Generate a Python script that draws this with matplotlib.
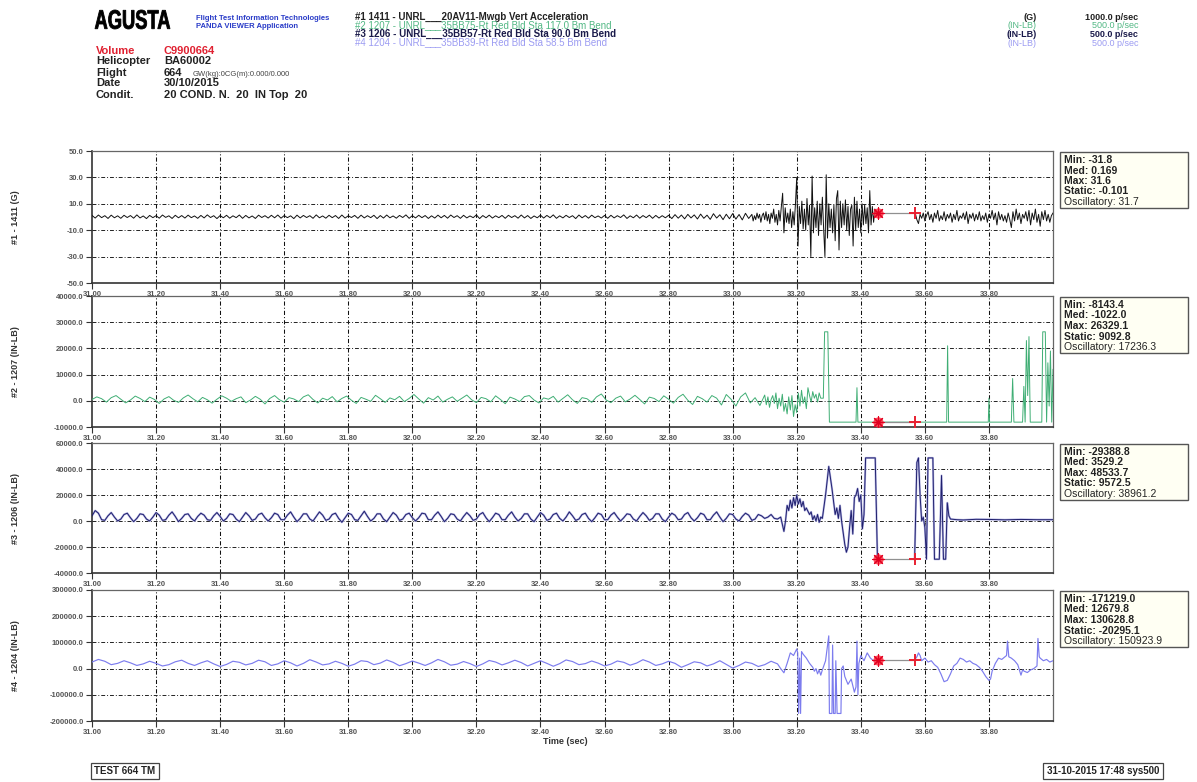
import numpy as np
import matplotlib
matplotlib.use('Agg')
import matplotlib.pyplot as plt
from matplotlib.patches import Rectangle, PathPatch
from matplotlib.ticker import FormatStrFormatter
from matplotlib.textpath import TextPath
from matplotlib.font_manager import FontProperties
from matplotlib.transforms import Affine2D

FONT = ['Liberation Sans', 'DejaVu Sans']
plt.rcParams['font.family'] = FONT

# ---------------- DATA ----------------
x_ticks = [31.0, 31.2, 31.4, 31.6, 31.8, 32.0, 32.2, 32.4, 32.6, 32.8, 33.0, 33.2, 33.4, 33.6, 33.8]
channel_labels = ['#1 - 1411 (G)', '#2 - 1207 (IN-LB)', '#3 - 1206 (IN-LB)', '#4 - 1204 (IN-LB)']
y_ticks = [[-50, -30, -10, 10, 30, 50],
           [-10000, 0, 10000, 20000, 30000, 40000],
           [-40000, -20000, 0, 20000, 40000, 60000],
           [-200000, -100000, 0, 100000, 200000, 300000]]
legend_lines = ['#1 1411 - UNRL___20AV11-Mwgb Vert Acceleration',
                '#2 1207 - UNRL___35BB75-Rt Red Bld Sta 117.0 Bm Bend',
                '#3 1206 - UNRL___35BB57-Rt Red Bld Sta 90.0 Bm Bend',
                '#4 1204 - UNRL___35BB39-Rt Red Bld Sta 58.5 Bm Bend']
units = ['(G)', '(IN-LB)', '(IN-LB)', '(IN-LB)']
rates = ['1000.0 p/sec', '500.0 p/sec', '500.0 p/sec', '500.0 p/sec']
stats = [['Min: -31.8', 'Med: 0.169', 'Max: 31.6', 'Static: -0.101', 'Oscillatory: 31.7'],
         ['Min: -8143.4', 'Med: -1022.0', 'Max: 26329.1', 'Static: 9092.8', 'Oscillatory: 17236.3'],
         ['Min: -29388.8', 'Med: 3529.2', 'Max: 48533.7', 'Static: 9572.5', 'Oscillatory: 38961.2'],
         ['Min: -171219.0', 'Med: 12679.8', 'Max: 130628.8', 'Static: -20295.1', 'Oscillatory: 150923.9']]
cursor_t = [33.455, 33.568]
cursor_v = [3, -8143, -29388, 33000]

# Series 1 (G), quiet part 31.00.. step 0.01
s1_quiet_t0, s1_quiet_dt = 31.00, 0.01
s1_quiet = [1.2, -0.8, 1.5, -0.5, 1.0, -1.1, 1.4, -0.6, 0.9, -1.0,
            1.3, -0.4, 1.1, -0.9, 1.6, -0.7, 0.8, -1.2, 1.2, -0.5,
            1.0, -0.9, 1.5, -0.3, 0.9, -1.1, 1.3, -0.6, 1.1, -0.8,
            1.4, -0.5, 0.8, -1.0, 1.2, -0.7, 1.6, -0.4, 1.0, -1.2,
            1.1, -0.6, 1.3, -0.9, 0.9, -0.5, 1.5, -1.0, 1.2, -0.7,
            0.8, -1.1, 1.4, -0.4, 1.0, -0.8, 1.3, -0.6, 1.5, -0.9,
            1.1, -0.5, 0.9, -1.2, 1.4, -0.7, 1.2, -0.4, 1.0, -1.0,
            1.6, -0.6, 0.8, -0.9, 1.3, -0.5, 1.1, -1.1, 1.5, -0.8,
            0.9, -0.4, 1.2, -1.0, 1.4, -0.7, 1.0, -0.5, 1.3, -1.2,
            1.1, -0.8, 1.5, -0.6, 0.8, -0.9, 1.2, -0.4, 1.6, -1.0,
            1.0, -0.7, 1.3, -0.5, 1.1, -1.1, 0.9, -0.8, 1.4, -0.6,
            1.2, -0.9, 1.5, -0.4, 1.0, -1.0, 1.3, -0.7, 0.8, -0.5,
            1.6, -1.2, 1.1, -0.6, 1.4, -0.8, 0.9, -0.5, 1.2, -1.0,
            1.3, -0.4, 1.0, -0.9, 1.5, -0.7, 1.1, -1.1, 0.8, -0.6,
            1.4, -0.8, 1.2, -0.5, 1.6, -1.0, 0.9, -0.7, 1.3, -0.4,
            1.0, -1.2, 1.5, -0.6, 1.1, -0.9, 1.4, -0.5, 0.8, -0.8,
            1.2, -1.0, 1.3, -0.7, 1.0, -0.4, 1.6, -1.1, 0.9, -0.6,
            1.5, -0.9, 1.1, -0.5, 1.4, -1.0, 1.2, -0.8, 1.0, -0.6,
            1.3, -1.2, 1.8, -0.9, 1.5, -1.4, 2.0, -0.7, 1.6, -1.5,
            2.2, -1.0, 1.4, -1.8, 2.5, -0.8, 1.7, -2.0, 2.1, -1.3,
            2.6, -1.6, 1.9, -2.2, 2.8, -1.1]
# Series 1 burst part 33.06.. step 0.004
s1_burst_t0, s1_burst_dt = 33.06, 0.004
s1_burst = [2, -3, 1, -2, 3, -1, 2, -4, 1, 3,
            -2, 4, -3, 2, -5, 3, -1, 6, -4, 2,
            -6, 5, -3, 8, 18, -12, 7, -4, 3, -5,
            6, -8, 4, -6, 10, 30, -22, 8, -5, 12,
            -9, 6, -10, 14, -6, 9, -30, 31, -12, 7,
            -8, 12, -14, 10, -6, 15, -9, -30, 32, -16,
            10, -8, 6, -12, 9, -18, 14, 20, -25, 12,
            -8, 10, -6, 13, -10, 8, -14, 6, 9, -22,
            15, -10, 12, -8, 6, -12, 10, -6, 9, -5,
            7, -12, 20, -6, 8, -4, 6, 2, 3]
# Series 1 after the cursor gap, 33.57.. step 0.005
s1_post_t0, s1_post_dt = 33.57, 0.005
s1_post = [3, -2, -5, 2, -1, 3, -3, 1, 4, -2,
           2, -4, 3, -1, 5, -3, 1, -2, 4, -3,
           2, -1, 3, -4, 2, -2, 5, -3, 1, -1,
           3, -2, 4, -5, 2, -1, 3, -3, 2, -2,
           4, -3, 1, -2, 3, -4, 2, -1, 5, -2,
           3, -6, 4, -2, 2, -3, 1, -4, 3, -2,
           -8, 4, -3, 6, -2, 3, -5, 2, -1, 4,
           -3, 5, -6, 3, -2, 6, -4, 2, -7, 4,
           -2, 5, -3, 2, -4, 1, 3]

# Series 2 (IN-LB), quiet 31.00.. step 0.015
s2_quiet_t0, s2_quiet_dt = 31.00, 0.015
s2_quiet = [500, 1500, 800, -500, 1200, 2000, 600, -800, 300, 1800,
            900, -300, 1400, 500, -1000, 700, 1600, 200, -600, 1100,
            2200, 800, -400, 1300, 400, -900, 600, 1900, 1000, -200,
            800, 1500, -700, 300, 1700, 600, -1200, 900, 2000, 400,
            -500, 1200, 700, -300, 1500, 2300, 500, -800, 1000, 300,
            1600, -400, 900, 1800, 200, -1000, 1300, 600, -200, 2100,
            800, -600, 1100, 400, 1700, -300, 900, 2400, 700, -900,
            1200, 300, 1800, -500, 600, 1500, -200, 1000, 2200, 400,
            -700, 1300, 800, -400, 1900, 500, -1100, 1400, 700, -300,
            1600, 2000, 300, -800, 1100, 600, 1700, -500, 900, 2300,
            400, -1000, 1200, 800, -600, 1500, 2600, 300, -700, 1000,
            1800, -400, 700, 2100, 500, -1200, 1400, 900, -300, 1900,
            600, -900, 1300, 2500, 200, -1400, 1700, 800, -500, 2000,
            1000, -1600, 2400, 600, -2000, 1500, 3000, -800, 1200, -1800,
            2200]
# Series 2 active 33.105.. step 0.005
s2_act_t0, s2_act_dt = 33.105, 0.005
s2_act = [-1500, 1500, -2500, 500, 2000, -1000, 3000, -3000, 1000, -2000,
          2500, -4000, -1000, -5000, 1500, -3500, 2000, -6000, -1500, -4500,
          3000, -2000, 4000, -1000, 1500, -3000, 5000, 2000, -500, 3500,
          1000, 2500, -500, 3000, 1000]
# Series 2 saturated part (explicit samples)
s2_sat_t = [33.283, 33.287, 33.297, 33.302, 33.385, 33.388, 33.391, 33.668, 33.671, 33.674,
            33.798, 33.800, 33.802, 33.870, 33.874, 33.878, 33.905, 33.909, 33.913, 33.917,
            33.921, 33.925, 33.929, 33.935, 33.965, 33.968, 33.976, 33.980, 33.984, 33.988,
            33.992, 33.996, 34.0]
s2_sat_v = [1000, 26329, 26329, -8143, -8143, 5000, -8143, -8143, 21000, -8143,
            -8143, 1000, -8143, -8143, 8500, -8143, -8143, 5500, -8143, 23000,
            2000, 24500, -8143, -8143, -8143, 26329, 26329, -8143, 14500, -2000,
            19000, -8143, 12000]

# Series 3 (IN-LB), quiet 31.00.. step 0.01
s3_quiet_t0, s3_quiet_dt = 31.00, 0.01
s3_quiet = [4000, 8000, 6000, 1000, 500, 4000, 6500, 3000, 0, 1500,
            5000, 6000, 2500, -500, 2000, 5500, 5000, 1500, 0, 3000,
            6500, 4500, 500, 1000, 4500, 7000, 3500, -500, 2000, 5000,
            5500, 2000, 0, 3500, 6000, 4500, 1000, 500, 4000, 6500,
            3500, 0, 2000, 5500, 5000, 1500, -500, 3000, 6500, 4000,
            500, 1500, 5000, 6000, 2500, 0, 2500, 6000, 5000, 1000,
            1000, 4500, 7000, 3000, -500, 2000, 5500, 5500, 1500, 0,
            3500, 7000, 4500, 500, 1500, 5000, 6000, 2000, -1000, 2500,
            6000, 5000, 1000, 500, 4000, 7500, 3500, 0, 2000, 5500,
            5500, 1500, -500, 3000, 6500, 4500, 500, 1500, 5000, 6000,
            2500, 0, 2500, 6000, 5500, 1000, 1000, 4500, 7000, 3500,
            -500, 2000, 5500, 5000, 1500, 0, 3500, 6500, 4000, 500,
            1500, 5000, 6500, 2500, -500, 2500, 6000, 5000, 1000, 1000,
            4500, 7000, 3000, 0, 2000, 5500, 5500, 1500, -500, 3000,
            6500, 4500, 500, 1500, 5000, 6000, 2000, 0, 3000, 7000,
            4000, 500, 1500, 5000, 6000, 2000, -500, 2500, 6000, 5000,
            1000, 1000, 4500, 6500, 3000, 0, 2500, 5500, 5000, 1500,
            0, 3500, 6500, 4000, 500, 2000, 5500, 5500, 1500, -500,
            3000, 6000, 4500, 1000, 1500, 5000, 6500, 2500, 0, 2500,
            6000, 5000, 1000, 1000, 4500, 7000, 3000, -500, 2000, 5500,
            5000, 1500, 0, 3500, 6000, 4500, 500, 1500, 5000, 4000,
            2000]
# Series 3 active part before the cursor gap
s3_act_t = [33.11, 33.12, 33.13, 33.14, 33.15, 33.16, 33.165, 33.17, 33.175, 33.18,
            33.185, 33.19, 33.195, 33.20, 33.205, 33.21, 33.215, 33.22, 33.225, 33.23,
            33.24, 33.245, 33.25, 33.255, 33.26, 33.265, 33.27, 33.275, 33.28, 33.29,
            33.30, 33.31, 33.32, 33.325, 33.33, 33.335, 33.34, 33.35, 33.355, 33.36,
            33.365, 33.37, 33.375, 33.38, 33.385, 33.39, 33.395, 33.40, 33.405, 33.41,
            33.415, 33.445, 33.452]
s3_act_v = [3000, 5000, 2000, 1500, 3000, -8000, 0, 12000, 8000, 16000,
            10000, 18000, 12000, 20000, 13000, 17000, 11000, 15000, 8000, 10000,
            5000, 7000, 1000, 4000, 0, 5000, -1000, 3000, 2000, 20000,
            42000, 25000, 5000, 10000, 2000, 12000, 0, -18000, -24000, -20000,
            -5000, 8000, -10000, 18000, 20000, 25000, 15000, 20000, -6000, 5000,
            48533, 48533, -29388]
# Series 3 after the cursor gap
s3_post_t = [33.568, 33.575, 33.58, 33.585, 33.59, 33.595, 33.60, 33.605, 33.61, 33.625,
             33.63, 33.645, 33.652, 33.658, 33.665, 33.67, 33.675, 33.68, 33.70, 33.72,
             33.76, 33.80, 33.85, 33.90, 33.95, 34.00]
s3_post_v = [-29388, 45000, 48533, 20000, 0, 3000, -5000, -29388, 48533, 48533,
             -29388, -29388, 35000, -29388, -29388, 14000, 4000, 1500, 1000, 800,
             1300, 1200, 900, 1200, 1000, 1000]

# Series 4 (IN-LB), quiet 31.00.. step 0.02
s4_quiet_t0, s4_quiet_dt = 31.00, 0.02
s4_quiet = [25000, 35000, 28000, 15000, 20000, 30000, 22000, 12000, 18000, 28000,
            20000, 10000, 15000, 26000, 32000, 20000, 12000, 22000, 30000, 18000,
            8000, 16000, 28000, 24000, 14000, 20000, 32000, 26000, 12000, 18000,
            30000, 22000, 10000, 20000, 34000, 25000, 14000, 18000, 28000, 20000,
            9000, 17000, 30000, 27000, 15000, 21000, 33000, 24000, 11000, 19000,
            29000, 21000, 12000, 22000, 35000, 26000, 13000, 17000, 27000, 19000,
            8000, 18000, 31000, 25000, 14000, 22000, 32000, 23000, 10000, 20000,
            30000, 20000, 9000, 19000, 33000, 27000, 15000, 19000, 29000, 21000,
            10000, 17000, 29000, 24000, 13000, 21000, 34000, 25000, 12000, 18000,
            28000, 20000, 5000, 15000, 26000, 22000, 10000, 18000, 30000, 16000,
            2000, 12000, 25000, 20000, 8000, 15000, 28000, 18000]
s4_act_t = [33.15, 33.16, 33.17, 33.18, 33.19, 33.20, 33.203, 33.206, 33.209, 33.212,
            33.215, 33.22, 33.23, 33.24, 33.25, 33.255, 33.26, 33.265, 33.27, 33.275,
            33.28, 33.29, 33.30, 33.302, 33.31, 33.312, 33.315, 33.32, 33.322, 33.326,
            33.338, 33.34, 33.345, 33.35, 33.36, 33.37, 33.38, 33.385, 33.388, 33.391,
            33.394, 33.40, 33.41, 33.42, 33.43, 33.44, 33.452]
s4_act_v = [0, -16000, 20000, 60000, 50000, 75000, 60000, -171219, 40000, -171219,
            65000, 55000, 40000, 20000, 5000, -10000, 0, -20000, -5000, -25000,
            -5000, 30000, 125000, -171219, -171219, 90000, -171219, -171219, 30000, -171219,
            -171219, 0, 10000, -30000, -60000, -40000, -90000, -70000, 105000, -100000,
            20000, 50000, 30000, 60000, 40000, 30000, 33000]
s4_post_t = [33.568, 33.575, 33.58, 33.585, 33.59, 33.60, 33.61, 33.62, 33.63, 33.64,
             33.65, 33.66, 33.67, 33.68, 33.69, 33.70, 33.71, 33.72, 33.73, 33.74,
             33.75, 33.76, 33.77, 33.78, 33.79, 33.80, 33.805, 33.81, 33.82, 33.83,
             33.84, 33.85, 33.855, 33.858, 33.862, 33.87, 33.88, 33.89, 33.895, 33.90,
             33.905, 33.91, 33.92, 33.93, 33.94, 33.95, 33.953, 33.957, 33.96, 33.97,
             33.98, 33.99, 34.00]
s4_post_v = [33000, 45000, 60000, 50000, 30000, 40000, 25000, 30000, 15000, 5000,
             -20000, -50000, -45000, -20000, 10000, 20000, 40000, 35000, 25000, 30000,
             20000, 15000, 5000, -10000, -30000, -45000, -40000, -10000, 20000, 40000,
             35000, 45000, 50000, 105000, 45000, 40000, 30000, 15000, -5000, -25000,
             -5000, -10000, -15000, -5000, 0, 10000, 115000, 45000, 40000, 30000,
             35000, 25000, 30000]


def reg_t(t0, dt, vals):
    return t0 + dt * np.arange(len(vals))


def join(*parts):
    ts, vs = [], []
    for i, (t, v) in enumerate(parts):
        if i > 0 and t is None:
            ts.append([np.nan]); vs.append([np.nan]); continue
        ts.append(np.asarray(t, float)); vs.append(np.asarray(v, float))
    return np.concatenate(ts), np.concatenate(vs)


series = [
    join((reg_t(s1_quiet_t0, s1_quiet_dt, s1_quiet), s1_quiet),
         (reg_t(s1_burst_t0, s1_burst_dt, s1_burst), s1_burst),
         (None, None),
         (reg_t(s1_post_t0, s1_post_dt, s1_post), s1_post)),
    join((reg_t(s2_quiet_t0, s2_quiet_dt, s2_quiet), s2_quiet),
         (reg_t(s2_act_t0, s2_act_dt, s2_act), s2_act),
         (s2_sat_t, s2_sat_v)),
    join((reg_t(s3_quiet_t0, s3_quiet_dt, s3_quiet), s3_quiet),
         (s3_act_t, s3_act_v),
         (None, None),
         (s3_post_t, s3_post_v)),
    join((reg_t(s4_quiet_t0, s4_quiet_dt, s4_quiet), s4_quiet),
         (s4_act_t, s4_act_v),
         (None, None),
         (s4_post_t, s4_post_v)),
]
colors = ['#111111', '#3fae74', '#20206e', '#7c7cee']
header_colors = ['#222222', '#52b884', '#1a1a4a', '#9c9cf2']

# ---------------- LAYOUT ----------------
W, H = 1197, 782
fig = plt.figure(figsize=(W / 100, H / 100), dpi=100)
fig.patch.set_facecolor('white')


def fx(x):
    return x / W


def fy(y):
    return 1 - y / H


left, right = 92, 1053
tops = [151, 296, 443, 590]
bottoms = [283, 427, 573, 721]
grid_ls = (0, (4, 2, 1, 2))

for k in range(4):
    ax = fig.add_axes([fx(left), fy(bottoms[k]), fx(right - left), fy(tops[k]) - fy(bottoms[k])])
    t, v = series[k]
    if k == 2:
        ax.plot(t, v, color='#b4b4e2', lw=1.5, zorder=2)
    ax.plot(t, v, color=colors[k], lw=0.7 if k != 3 else 0.85, zorder=3)
    # cursors
    ax.plot(cursor_t, [cursor_v[k]] * 2, color='#909090', lw=0.9, zorder=4)
    ax.scatter([cursor_t[0]], [cursor_v[k]], s=55, marker='o', color='#ff3040', alpha=0.85, zorder=5, lw=0)
    ax.scatter([cursor_t[0]], [cursor_v[k]], s=70, marker=(8, 2, 0), color='#e00020', lw=0.8, zorder=6)
    ax.scatter([cursor_t[1]], [cursor_v[k]], s=80, marker='+', color='#e82030', lw=1.4, zorder=6)

    ax.set_xlim(31.0, 34.0)
    yt = y_ticks[k]
    ax.set_ylim(yt[0], yt[-1])
    ax.set_xticks(x_ticks)
    ax.set_yticks(yt)
    ax.xaxis.set_major_formatter(FormatStrFormatter('%.2f'))
    ax.yaxis.set_major_formatter(FormatStrFormatter('%.1f'))
    for xv in x_ticks[1:]:
        ax.axvline(xv, color='#111111', lw=0.75, ls=grid_ls, zorder=1)
    for yv in yt[1:-1]:
        ax.axhline(yv, color='#222222', lw=0.7, ls=grid_ls, zorder=1)
    ax.tick_params(axis='both', direction='out', length=4, width=0.8, colors='#333333',
                   labelsize=5.5, pad=2, labelcolor='#555555')
    for lab in ax.get_xticklabels() + ax.get_yticklabels():
        lab.set_fontweight('bold')
    for side, sp in ax.spines.items():
        sp.set_linewidth(1.2 if side in ('left', 'bottom') else 0.9)
        sp.set_color('#333333' if side in ('left', 'bottom') else '#666666')
    ax.set_facecolor('white')

    # channel label on the far left
    fig.text(fx(15), (fy(tops[k]) + fy(bottoms[k])) / 2, channel_labels[k], rotation=90,
             ha='center', va='center', fontsize=6.5, fontweight='bold', color='#333333')

    # stats box
    bx0, bx1 = 1060, 1188
    by0 = tops[k] + 1
    bh = 56
    fig.patches.append(Rectangle((fx(bx0), fy(by0 + bh)), fx(bx1 - bx0), bh / H,
                                 transform=fig.transFigure, facecolor='#fffff3',
                                 edgecolor='#555555', lw=1.0, zorder=1))
    for j, line in enumerate(stats[k]):
        fig.text(fx(bx0 + 4), fy(by0 + 11 + j * 10.5), line, ha='left', va='baseline',
                 fontsize=7.5, color='#222222', fontweight='bold' if j < 4 else 'normal')

# x-axis title
fig.text(fx(565), fy(741), 'Time (sec)', ha='center', va='center', fontsize=6.5,
         fontweight='bold', color='#333333')

# ---------------- HEADER ----------------
# condensed heavy logo text, scaled to the logo box (x 95..170, y 10..29 px)
logo_fp = FontProperties(family='Liberation Sans', weight='bold')
logo_path = TextPath((0, 0), 'AGUSTA', size=1, prop=logo_fp)
bb = logo_path.get_extents()
logo_tr = (Affine2D().translate(-bb.x0, -bb.y0)
           .scale(75 / bb.width, 19 / bb.height)
           .translate(95, H - 29))
logo_patch = PathPatch(logo_path, transform=logo_tr, facecolor='black', edgecolor='black', lw=0.6)
fig.patches.append(logo_patch)

fig.text(fx(196), fy(18), 'Flight Test Information Technologies', ha='left', va='center',
         fontsize=5.5, fontweight='bold', color='#2a3cc8')
fig.text(fx(196), fy(26), 'PANDA VIEWER Application', ha='left', va='center',
         fontsize=5.5, fontweight='bold', color='#2a3cc8')

hdr_keys = ['Volume', 'Helicopter', 'Flight', 'Date', 'Condit.']
hdr_vals = ['C9900664', 'BA60002', '664', '30/10/2015', '20 COND. N.  20  IN Top  20']
hdr_base = [53.5, 64.5, 75.5, 86.5, 97.5]
for j in range(5):
    c = '#e02030' if j == 0 else '#222222'
    fig.text(fx(96), fy(hdr_base[j]), hdr_keys[j], ha='left', va='baseline', fontsize=8,
             fontweight='bold', color=c)
    fig.text(fx(164), fy(hdr_base[j]), hdr_vals[j], ha='left', va='baseline', fontsize=8,
             fontweight='bold', color=c)
fig.text(fx(193), fy(75.5), 'GW(kg):0CG(m):0.000/0.000', ha='left', va='baseline',
         fontsize=5.5, color='#444444')

leg_base = [20, 28.5, 37, 45.5]
for j in range(4):
    fig.text(fx(355), fy(leg_base[j]), legend_lines[j], ha='left', va='baseline', fontsize=7,
             fontweight='bold' if j in (0, 2) else 'normal', color=header_colors[j])
    fig.text(fx(1037), fy(leg_base[j]), units[j], ha='right', va='baseline', fontsize=6.5,
             fontweight='bold' if j in (0, 2) else 'normal', color=header_colors[j])
    fig.text(fx(1138), fy(leg_base[j]), rates[j], ha='right', va='baseline', fontsize=6.5,
             fontweight='bold' if j in (0, 2) else 'normal', color=header_colors[j])

# ---------------- FOOTER ----------------
fig.text(fx(125), fy(771), 'TEST 664 TM', ha='center', va='center', fontsize=7,
         fontweight='bold', color='#222222',
         bbox=dict(boxstyle='square,pad=0.35', facecolor='white', edgecolor='#444444', lw=0.9))
fig.text(fx(1103), fy(771), '31-10-2015 17:48 sys500', ha='center', va='center', fontsize=7,
         fontweight='bold', color='#222222',
         bbox=dict(boxstyle='square,pad=0.35', facecolor='white', edgecolor='#444444', lw=0.9))

fig.savefig('out.png', dpi=100, facecolor='white')
